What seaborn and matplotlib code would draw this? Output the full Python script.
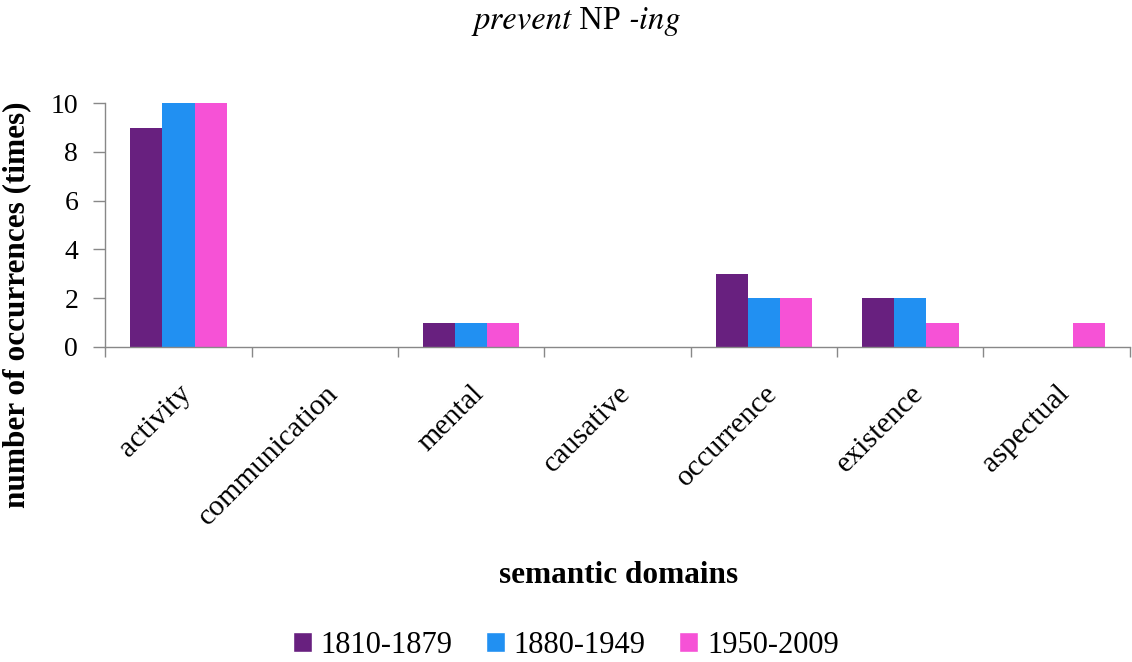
import numpy as np
import pandas as pd
import seaborn as sns
import matplotlib.pyplot as plt
from matplotlib.patches import Patch

# data
domains = ["activity", "communication", "mental", "causative",
           "occurrence", "existence", "aspectual"]
periods = ["1810-1879", "1880-1949", "1950-2009"]
p1810 = [9, 0, 1, 0, 3, 2, 0]
p1880 = [10, 0, 1, 0, 2, 2, 0]
p1950 = [10, 0, 1, 0, 2, 1, 1]
colors = ["#68207F", "#2190F2", "#F652D6"]

df = pd.DataFrame({
    "domain": domains * 3,
    "period": np.repeat(periods, len(domains)),
    "count": p1810 + p1880 + p1950,
})

sns.set_theme(style="white")
plt.rcParams["font.family"] = ["Liberation Serif", "DejaVu Serif"]
plt.rcParams["text.color"] = "black"

fig = plt.figure(figsize=(11.32, 6.62), dpi=100)
ax = fig.add_axes([0.093, 0.476, 0.905, 0.368])

sns.barplot(data=df, x="domain", y="count", hue="period", order=domains,
            hue_order=periods, palette=colors, width=0.66, saturation=1,
            ax=ax, legend=False, linewidth=0)

ax.set_xlim(-0.5, len(domains) - 0.5)
ax.set_ylim(0, 10)
ax.set_yticks(range(0, 11, 2))
ax.tick_params(axis="y", labelsize=20, length=8.5, width=1, color="#888888",
               labelcolor="black", left=True, pad=11)

# category boundaries carry the ticks, labels sit at centres
ax.set_xticks(np.arange(-0.5, len(domains)), minor=False)
ax.set_xticklabels([""] * (len(domains) + 1))
ax.set_xticks(np.arange(len(domains)), minor=True)
ax.set_xticklabels(domains, minor=True, rotation=45, ha="right",
                   rotation_mode="anchor", fontsize=21.5)
ax.tick_params(axis="x", which="major", length=7, width=1, color="#888888",
               bottom=True, direction="out")
ax.tick_params(axis="x", which="minor", length=0, pad=24, labelcolor="black")

for s in ["top", "right"]:
    ax.spines[s].set_visible(False)
for s in ["left", "bottom"]:
    ax.spines[s].set_color("#888888")
    ax.spines[s].set_linewidth(1)

ax.set_xlabel("")
ax.set_ylabel("")
fig.text(0.015, 0.539, "number of occurrences (times)", rotation=90,
         fontsize=22.5, fontweight="bold", ha="center", va="center")
fig.text(0.546, 0.131, "semantic domains", fontsize=22.5, fontweight="bold",
         ha="center", va="center")

# title: italic / roman / italic pieces chained together
# (STIXGeneral ships with matplotlib and has a Times-like italic)
t1 = fig.text(0.418, 0.968, "prevent", family="STIXGeneral", style="italic",
              fontsize=23.5, ha="left", va="center")
t2 = plt.annotate(" NP ", xy=(1, 0), xycoords=t1, fontsize=23.5,
                  ha="left", va="bottom")
plt.annotate("-ing", xy=(1, 0), xycoords=t2, family="STIXGeneral",
             style="italic", fontsize=23.5, ha="left", va="bottom")

handles = [Patch(facecolor=c, label=p) for c, p in zip(colors, periods)]
fig.legend(handles=handles, loc="center", bbox_to_anchor=(0.5, 0.025),
           ncol=3, frameon=False, fontsize=22, handlelength=0.6,
           handleheight=0.6, handletextpad=0.3, columnspacing=1.1)

fig.savefig("out.png", dpi=100)
